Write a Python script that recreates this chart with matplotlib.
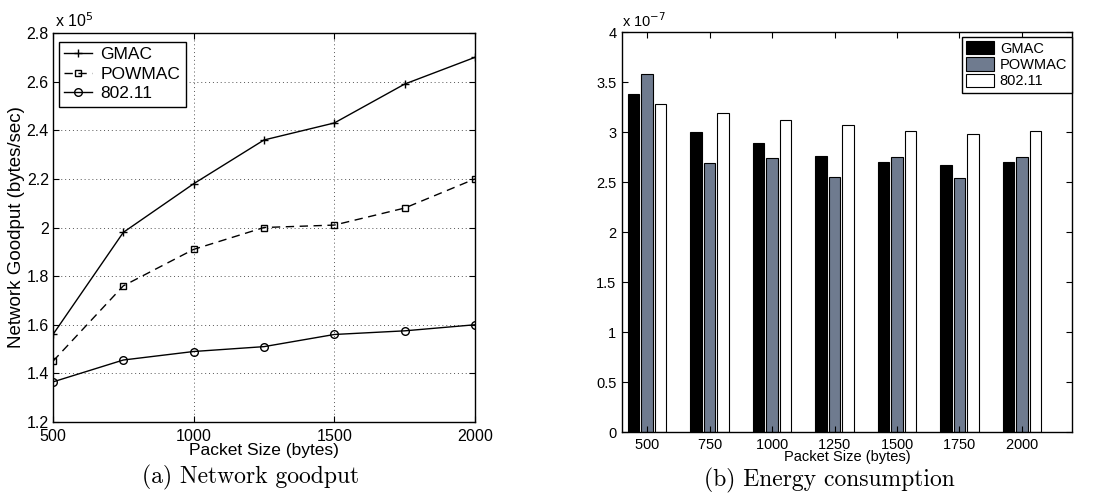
import numpy as np
import matplotlib
matplotlib.use("Agg")
import matplotlib.pyplot as plt

# ── Data ─────────────────────────────────────────────────────
packet_sizes = [500, 750, 1000, 1250, 1500, 1750, 2000]

goodput_gmac   = [1.56, 1.98, 2.18, 2.36, 2.43, 2.59, 2.70]   # x 1e5
goodput_powmac = [1.45, 1.76, 1.91, 2.00, 2.01, 2.08, 2.20]
goodput_80211  = [1.365, 1.455, 1.49, 1.51, 1.56, 1.575, 1.60]

energy_gmac   = [3.38, 3.00, 2.89, 2.76, 2.70, 2.67, 2.70]    # x 1e-7
energy_powmac = [3.58, 2.69, 2.74, 2.55, 2.75, 2.54, 2.75]
energy_80211  = [3.28, 3.19, 3.12, 3.07, 3.01, 2.98, 3.01]

goodput_xticks = [500, 1000, 1500, 2000]
goodput_yticks = [1.2, 1.4, 1.6, 1.8, 2.0, 2.2, 2.4, 2.6, 2.8]
goodput_yticklabels = ["1.2", "1.4", "1.6", "1.8", "2", "2.2", "2.4", "2.6", "2.8"]
energy_yticks = [0, 0.5, 1, 1.5, 2, 2.5, 3, 3.5, 4]
energy_yticklabels = ["0", "0.5", "1", "1.5", "2", "2.5", "3", "3.5", "4"]

SANS = ["Liberation Sans", "DejaVu Sans"]
SERIF = ["cmr10", "DejaVu Serif"]
POW_GRAY = "#6f7b8f"

plt.rcParams["font.family"] = SANS
plt.rcParams["axes.formatter.use_mathtext"] = True

fig = plt.figure(figsize=(10.99, 4.98), dpi=100)

# ── (a) Network goodput ──────────────────────────────────────
ax1 = fig.add_axes([0.0482, 0.1526, 0.384, 0.7811])
ax1.plot(packet_sizes, goodput_gmac, color="black", linewidth=1,
         marker="+", markersize=6, label="GMAC")
ax1.plot(packet_sizes, goodput_powmac, color="black", linewidth=1,
         linestyle=(0, (6, 4)), marker="s", markersize=4,
         markerfacecolor="none", label="POWMAC")
ax1.plot(packet_sizes, goodput_80211, color="black", linewidth=1,
         marker="o", markersize=5.5, markerfacecolor="none", label="802.11")

ax1.set_xlim(500, 2000)
ax1.set_ylim(1.2, 2.8)
ax1.set_xticks(goodput_xticks)
ax1.set_yticks(goodput_yticks)
ax1.set_yticklabels(goodput_yticklabels)
ax1.tick_params(direction="in", top=True, right=True, length=4,
                labelsize=11.5, pad=3)
ax1.tick_params(axis="x", pad=4.5)
ax1.grid(True, linestyle=(0, (1, 3)), color="#555555", linewidth=0.7)
ax1.set_xlabel("Packet Size (bytes)", fontsize=12.5, labelpad=-1)
ax1.set_ylabel("Network Goodput (bytes/sec)", fontsize=13.5, labelpad=1)
ax1.text(0.005, 1.008, r"x 10$^{5}$", transform=ax1.transAxes,
         fontsize=11.5, ha="left", va="bottom")
leg1 = ax1.legend(loc="upper left", fontsize=12.5, fancybox=False,
                  framealpha=1, edgecolor="black", handlelength=1.6,
                  borderpad=0.3, labelspacing=0.25, handletextpad=0.5,
                  borderaxespad=0, bbox_to_anchor=(0.014, 0.977))
leg1.get_frame().set_linewidth(1)
for s in ax1.spines.values():
    s.set_linewidth(1)

# ── (b) Energy consumption ───────────────────────────────────
ax2 = fig.add_axes([0.566, 0.1325, 0.4094, 0.8032])
x = np.array(packet_sizes)
w = 45
off = 54
ax2.bar(x - off, energy_gmac, width=w, color="black", edgecolor="black",
        linewidth=0.8, label="GMAC")
ax2.bar(x, energy_powmac, width=w, color=POW_GRAY, edgecolor="black",
        linewidth=0.8, label="POWMAC")
ax2.bar(x + off, energy_80211, width=w, color="white", edgecolor="black",
        linewidth=0.8, label="802.11")

ax2.set_xlim(400, 2200)
ax2.set_ylim(0, 4)
ax2.set_xticks(packet_sizes)
ax2.set_yticks(energy_yticks)
ax2.set_yticklabels(energy_yticklabels)
ax2.tick_params(direction="in", top=True, right=True, length=4,
                labelsize=10.5, pad=4)
ax2.set_xlabel("Packet Size (bytes)", fontsize=10.5, labelpad=-1)
ax2.text(0.0, 1.004, r"x 10$^{-7}$", transform=ax2.transAxes,
         fontsize=10.5, ha="left", va="bottom")
leg2 = ax2.legend(loc="upper right", fontsize=10.5,
                  fancybox=False, framealpha=1, edgecolor="black",
                  handlelength=1.9, handleheight=1.0, borderpad=0.3,
                  labelspacing=0.12, handletextpad=0.4, borderaxespad=0,
                  bbox_to_anchor=(0.999, 0.988))
leg2.get_frame().set_linewidth(1)
for s in ax2.spines.values():
    s.set_linewidth(1)

# ── Captions ─────────────────────────────────────────────────
fig.text(0.228, 0.042, "(a) Network goodput", fontsize=17,
         family=SERIF, ha="center", va="center")
fig.text(0.755, 0.036, "(b) Energy consumption", fontsize=17,
         family=SERIF, ha="center", va="center")

fig.savefig("out.png", dpi=100)
